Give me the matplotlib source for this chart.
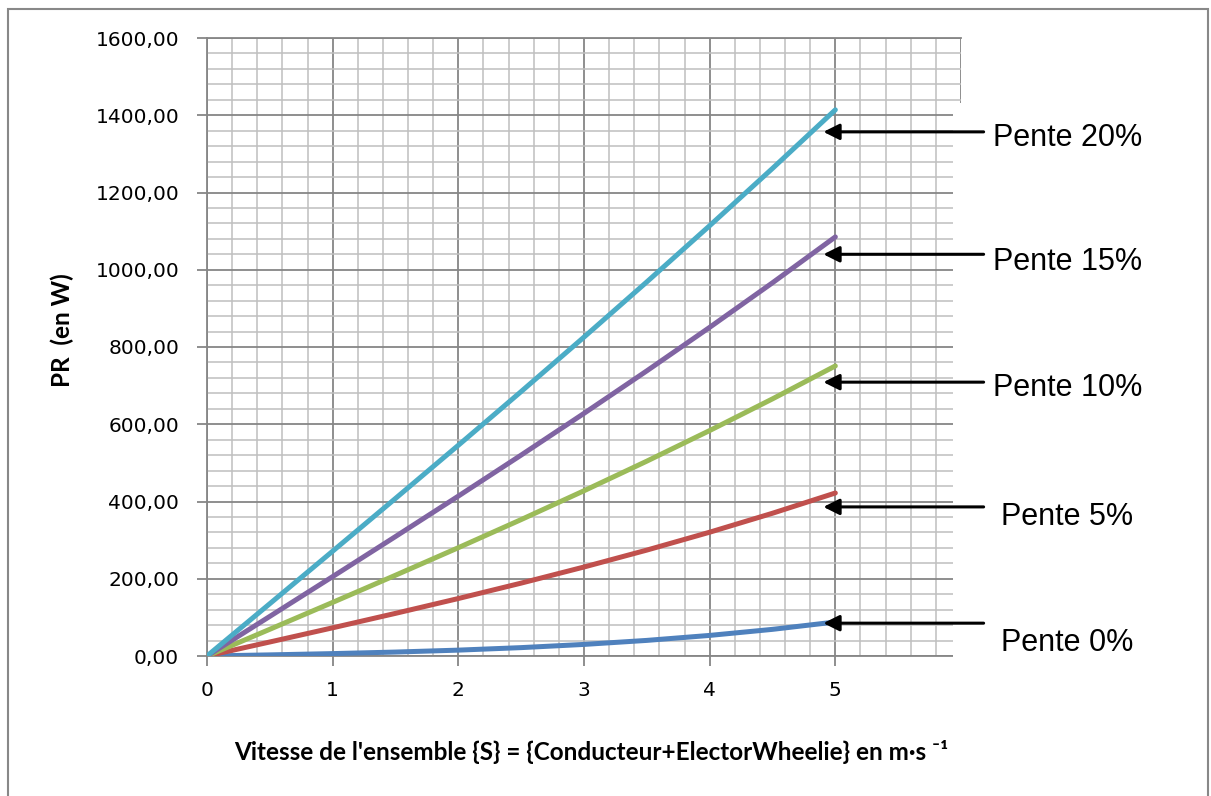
import matplotlib.pyplot as plt
from matplotlib.patches import Rectangle
from matplotlib.ticker import MultipleLocator, FuncFormatter

# vitesse (m/s) et puissance résistante (W) pour chaque pente
vitesse = [0, 0.5, 1, 1.5, 2, 2.5, 3, 3.5, 4, 4.5, 5]

pr_0 = [0, 2.9, 6.2, 10.2, 15.2, 21.7, 30.0, 40.4, 53.3, 69.0, 88.0]
pr_5 = [0, 36.3, 73.0, 110.4, 148.8, 188.7, 230.4, 274.2, 320.5, 369.6, 422.0]
pr_10 = [0, 69.2, 138.8, 209.1, 280.4, 353.2, 427.8, 504.5, 583.7, 665.7, 751.0]
pr_15 = [0, 102.6, 205.6, 309.3, 414.0, 520.2, 628.2, 738.3, 850.9, 966.3, 1085.0]
pr_20 = [0, 135.5, 271.4, 408.0, 545.6, 684.7, 825.6, 968.6, 1114.1, 1262.4, 1414.0]

series = [pr_0, pr_5, pr_10, pr_15, pr_20]
couleurs = ['#4F81BD', '#C0504D', '#9BBB59', '#8064A2', '#4BACC6']

etiquettes = ['Pente 0%', 'Pente 5%', 'Pente 10%', 'Pente 15%', 'Pente 20%']
fleche_y = [85, 386, 709, 1040, 1357]

W, H = 1211, 796

fig = plt.figure(figsize=(W / 100, H / 100), dpi=100)
ax = fig.add_axes([207 / W, 1 - 656 / H, (961 - 207) / W, (656 - 38) / H])

# ---- grid ----
ax.set_xlim(0, 6)
ax.set_ylim(0, 1600)
ax.xaxis.set_major_locator(MultipleLocator(1))
ax.xaxis.set_minor_locator(MultipleLocator(0.2))
ax.yaxis.set_major_locator(MultipleLocator(200))
ax.yaxis.set_minor_locator(MultipleLocator(40))
ax.grid(which='minor', color='#BFBFBF', linewidth=1.1)
ax.grid(which='major', color='#868686', linewidth=1.3)
ax.set_axisbelow(True)

for s in ax.spines.values():
    s.set_color('#868686')
    s.set_linewidth(1.3)
ax.spines['right'].set_visible(False)

ax.tick_params(which='minor', length=0)
ax.tick_params(which='major', length=7, width=1.3, color='#868686',
               labelsize=14.5, labelcolor='black')
ax.tick_params(axis='y', pad=13)
ax.tick_params(axis='x', pad=11)
ax.set_xticks([0, 1, 2, 3, 4, 5, 6])
ax.xaxis.set_major_formatter(FuncFormatter(lambda v, p: f"{int(v)}"))
ax.yaxis.set_major_formatter(
    FuncFormatter(lambda v, p: f"{v:.2f}".replace('.', ','))
)

# ---- courbes ----
for vals, c in zip(series, couleurs):
    ax.plot(vitesse, vals, color=c, linewidth=3.6, solid_capstyle='round',
            zorder=3)

# ---- zone blanche des étiquettes ----
ax.add_patch(Rectangle((953 / W, 1 - 700 / H), (1207 - 953) / W,
                       (700 - 103) / H, transform=fig.transFigure,
                       facecolor='white', edgecolor='none', zorder=4,
                       clip_on=False))

# ---- flèches ----
x_tail = 6.18
for y in fleche_y:
    ax.annotate('', xy=(4.905, y), xytext=(x_tail, y),
                arrowprops=dict(arrowstyle='-|>', color='black', lw=2.2,
                                mutation_scale=24, shrinkA=0, shrinkB=0),
                annotation_clip=False, zorder=5)

text_pos = [(1001, 643), (1001, 517), (993, 388), (993, 262), (993, 138)]
for lab, (px, py) in zip(etiquettes, text_pos):
    fig.text(px / W, 1 - py / H, lab, fontsize=22, family='Liberation Sans',
             ha='left', va='center', zorder=6)

# ---- titres des axes ----
titre_font = ['Lato', 'DejaVu Sans']
fig.text(591 / W, 1 - 752 / H,
         "Vitesse de l'ensemble {S} = {Conducteur+ElectorWheelie} en m·s ⁻¹",
         fontsize=17.5, fontweight='bold', family=titre_font,
         ha='center', va='center')
fig.text(62 / W, 1 - 330 / H, "PR  (en W)", fontsize=17.5, fontweight='bold',
         family=titre_font, rotation=90, ha='center', va='center')

# ---- cadre ----
fig.patches.append(Rectangle((8 / W, -0.01), (1208 - 8) / W, 1 - 9 / H + 0.01,
                             transform=fig.transFigure, facecolor='none',
                             edgecolor='#888888', linewidth=1.5))

fig.savefig('out.png', dpi=100)
